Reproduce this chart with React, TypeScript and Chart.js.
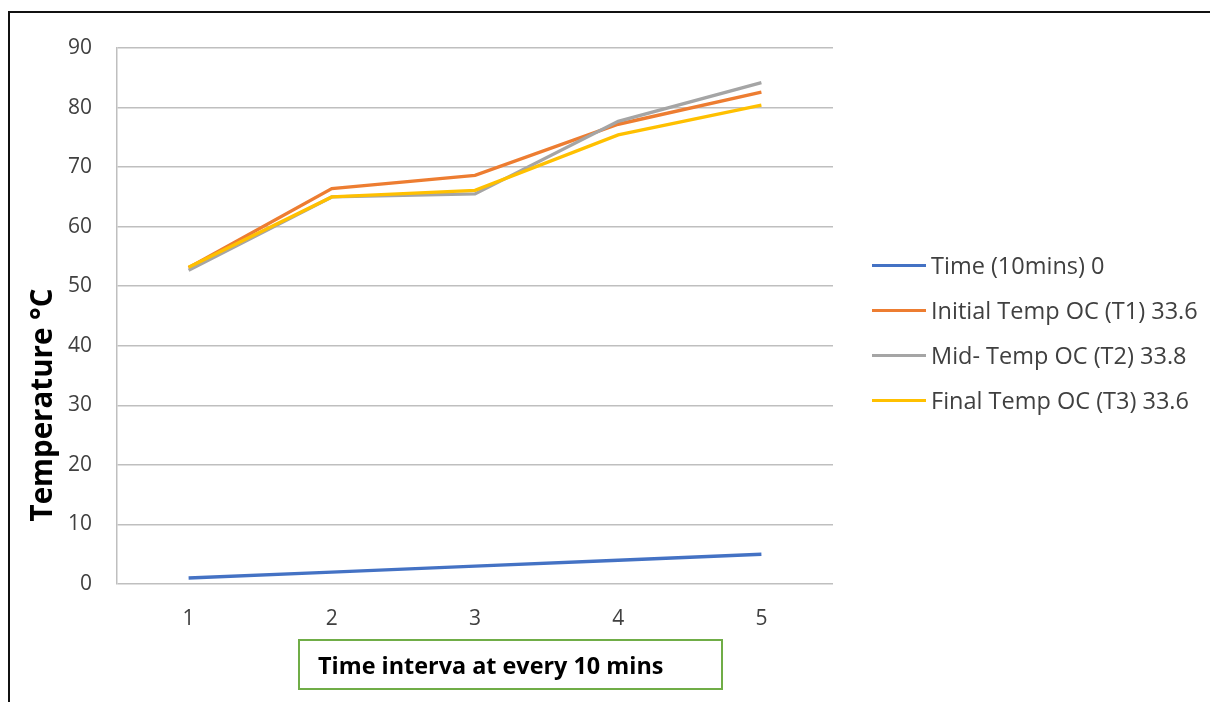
import React, { useEffect, useRef } from "react";
import { Chart, registerables } from "chart.js";

Chart.register(...registerables);

// Sample number along the x axis (one reading every 10 minutes)
const intervals = ["1", "2", "3", "4", "5"];

// Series readings
const timeSeries = [1, 2, 3, 4, 5];
const initialTemp = [53.1, 66.4, 68.6, 77.2, 82.6];
const midTemp = [52.7, 65.0, 65.5, 77.7, 84.2];
const finalTemp = [53.2, 65.0, 66.1, 75.4, 80.4];

const seriesNames = [
  "Time (10mins) 0",
  "Initial Temp OC (T1) 33.6",
  "Mid- Temp OC (T2) 33.8",
  "Final Temp OC (T3) 33.6",
];
const seriesColors = ["#4472C4", "#ED7D31", "#A5A5A5", "#FFC000"];

const yTickMax = 90;
const yTickStep = 10;

const FONT = "'Open Sans', 'Noto Sans', sans-serif";

export default function App() {
  const canvasRef = useRef<HTMLCanvasElement | null>(null);

  useEffect(() => {
    const ctx = canvasRef.current;
    if (!ctx) return;
    const allSeries = [timeSeries, initialTemp, midTemp, finalTemp];
    const chart = new Chart(ctx, {
      type: "line",
      data: {
        labels: intervals,
        datasets: allSeries.map((values, i) => ({
          label: seriesNames[i],
          data: values,
          borderColor: seriesColors[i],
          backgroundColor: seriesColors[i],
          borderWidth: 3.4,
          pointRadius: 0,
          tension: 0,
          order: allSeries.length - 1 - i,
        })),
      },
      options: {
        animation: false,
        responsive: false,
        maintainAspectRatio: false,
        layout: { padding: { left: 0, top: 48, right: 377, bottom: 0 } },
        plugins: {
          legend: { display: false },
          tooltip: { enabled: false },
        },
        scales: {
          x: {
            type: "category",
            offset: true,
            grid: { display: false, drawTicks: false },
            border: { display: false },
            ticks: {
              color: "#404040",
              font: { family: FONT, size: 21 },
              padding: 22,
              maxRotation: 0,
            },
            afterFit: (scale: any) => {
              scale.height = 118;
            },
          },
          y: {
            min: 0,
            max: yTickMax,
            ticks: {
              stepSize: yTickStep,
              color: "#404040",
              font: { family: FONT, size: 21 },
              padding: 25,
            },
            grid: {
              color: "#BFBFBF",
              lineWidth: 1.5,
              drawTicks: false,
            },
            border: { display: true, color: "#BFBFBF", width: 1.5 },
            afterFit: (scale: any) => {
              scale.width = 117;
            },
          },
        },
      },
    });
    return () => chart.destroy();
  }, []);

  return (
    <div
      style={{
        position: "absolute",
        left: 0,
        top: 0,
        width: 1210,
        height: 702,
        background: "#ffffff",
        overflow: "hidden",
        fontFamily: FONT,
      }}
    >
      <canvas
        ref={canvasRef}
        width={1210}
        height={702}
        style={{ position: "absolute", left: 0, top: 0, width: 1210, height: 702 }}
      />
      {/* outer frame */}
      <div
        style={{
          position: "absolute",
          left: 8,
          top: 11,
          width: 1220,
          height: 720,
          borderTop: "2px solid #111",
          borderLeft: "2px solid #111",
          boxSizing: "border-box",
          pointerEvents: "none",
        }}
      />
      {/* y axis title */}
      <div
        style={{
          position: "absolute",
          left: 40,
          top: 405,
          transform: "translate(-50%, -50%) rotate(-90deg)",
          whiteSpace: "nowrap",
          fontWeight: 700,
          fontSize: 29.5,
          color: "#000",
        }}
      >
        Temperature °C
      </div>
      {/* x axis title box */}
      <div
        style={{
          position: "absolute",
          left: 298,
          top: 639,
          width: 425,
          height: 51,
          border: "2px solid #70AD47",
          boxSizing: "border-box",
          paddingLeft: 18,
          display: "flex",
          alignItems: "center",
          fontWeight: 700,
          fontSize: 23.4,
          color: "#000",
          whiteSpace: "nowrap",
        }}
      >
        Time interva at every 10 mins
      </div>
      {/* legend */}
      {seriesNames.map((name, i) => (
        <div
          key={name}
          style={{
            position: "absolute",
            left: 872,
            top: 265 + i * 45 - 16,
            height: 32,
            display: "flex",
            alignItems: "center",
            whiteSpace: "nowrap",
            fontSize: 23.5,
            color: "#404040",
          }}
        >
          <span
            style={{
              display: "inline-block",
              width: 54,
              height: 3,
              background: seriesColors[i],
              marginRight: 5,
            }}
          />
          {name}
        </div>
      ))}
    </div>
  );
}
